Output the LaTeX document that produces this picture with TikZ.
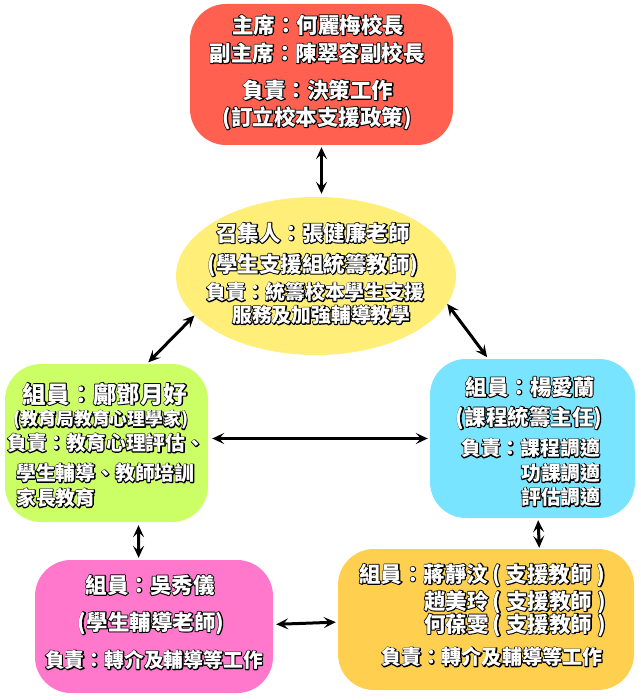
\documentclass[tikz,border=0pt]{standalone}
\usepackage{fontspec}
\newfontfamily\cjk{Noto Sans CJK TC}
\usetikzlibrary{arrows.meta,calc,shapes.geometric}
\definecolor{cred}{RGB}{255,96,80}
\definecolor{cyel}{RGB}{255,238,120}
\definecolor{cgrn}{RGB}{204,255,102}
\definecolor{ccyn}{RGB}{120,228,255}
\definecolor{cpnk}{RGB}{255,120,204}
\definecolor{corg}{RGB}{255,208,80}
\newcommand\olt[1]{\leavevmode\rlap{\special{pdf:literal direct 0 G 1 Tr 1.8 w 1 j}#1\special{pdf:literal direct 0 Tr}}#1}
\newcommand\pl{\kern4pt(\kern5pt}
\newcommand\pr{\kern5pt)}
\tikzset{
  box/.style={draw=none,inner sep=0pt,rounded corners=36pt},
  txt/.style={inner sep=0pt,text=white,font=\cjk\bfseries},
  bigt/.style={font=\cjk\bfseries\fontsize{21.5}{24}\selectfont},
  smlt/.style={font=\cjk\bfseries\fontsize{19.8}{22}\selectfont},
  arr/.style={line width=3pt,{Stealth[length=12pt,width=11pt,inset=5pt]}-{Stealth[length=12pt,width=11pt,inset=5pt]}},
}
\begin{document}
\begin{tikzpicture}[x=1pt,y=-1pt]
\fill[white] (0,0) rectangle (640,700);
\useasboundingbox (0,0) rectangle (640,700);
% boxes
\node[box,fill=cred,minimum width=263pt,minimum height=141pt] (red) at (321.5,74.5) {};
\node[draw=none,inner sep=0pt,ellipse,fill=cyel,minimum width=280pt,minimum height=158pt] (yel) at (316,276) {};
\node[box,fill=cgrn,minimum width=203pt,minimum height=158pt] (grn) at (106.5,443) {};
\node[box,fill=ccyn,minimum width=205pt,minimum height=159pt] (cyn) at (532.5,438.5) {};
\node[box,fill=cpnk,minimum width=238pt,minimum height=133pt] (pnk) at (154,626.5) {};
\node[box,fill=corg,minimum width=296pt,minimum height=141pt] (org) at (486,619.5) {};
% red text
\node[txt,bigt] (r1) at (318,25) {\olt{主席：何麗梅校長}};
\node[txt,bigt] (r2) at (317,53) {\olt{副主席：陳翠容副校長}};
\node[txt,bigt] (r3) at (318,90) {\olt{負責：決策工作}};
\node[txt,bigt] (r4) at (317,118) {\olt{(訂立校本支援政策)}};
% yellow text
\node[txt,bigt] (y1) at (313,233) {\olt{召集人：張健廉老師}};
\node[txt,bigt] (y2) at (313,265) {\olt{(學生支援組統籌教師)}};
\node[txt,smlt,anchor=west] (y3) at (206,292) {\olt{負責：統籌校本學生支援}};
\node[txt,smlt,anchor=west] (y4) at (232,315) {\olt{服務及加強輔導教學}};
% green text
\node[txt,font=\cjk\bfseries\fontsize{23.5}{26}\selectfont] (g1) at (105,394) {\olt{組員：鄺鄧月好}};
\node[txt,font=\cjk\bfseries\fontsize{17.8}{20}\selectfont] (g2) at (101,420) {\olt{(教育局教育心理學家)}};
\node[txt,smlt,anchor=west] (g3) at (7,443) {\olt{負責：教育心理評估、}};
\node[txt,smlt,anchor=west] (g4) at (16,473) {\olt{學生輔導、教師培訓}};
\node[txt,smlt,anchor=west] (g5) at (16,498) {\olt{家長教育}};
% cyan text
\node[txt,bigt] (c1) at (530,387) {\olt{組員：楊愛蘭}};
\node[txt,bigt] (c2) at (529,418) {\olt{(課程統籌主任)}};
\node[txt,smlt,anchor=west] (c3) at (461,448) {\olt{負責：課程調適}};
\node[txt,smlt,anchor=west] (c4) at (521,473) {\olt{功課調適}};
\node[txt,smlt,anchor=west] (c5) at (521,497) {\olt{評估調適}};
% pink text
\node[txt,bigt] (p1) at (150,585) {\olt{組員：吳秀儀}};
\node[txt,bigt] (p2) at (151,623) {\olt{(學生輔導老師)}};
\node[txt,smlt] (p3) at (154,660) {\olt{負責：轉介及輔導等工作}};
% orange text
\node[txt,bigt,anchor=west] (o1) at (359,575) {\olt{組員：蔣靜汶\pl 支援教師\pr}};
\node[txt,bigt,anchor=west] (o2) at (424,602) {\olt{趙美玲\pl 支援教師\pr}};
\node[txt,bigt,anchor=west] (o3) at (424,625) {\olt{何葆雯\pl 支援教師\pr}};
\node[txt,font=\cjk\bfseries\fontsize{20.1}{23}\selectfont] (o4) at (492,657) {\olt{負責：轉介及輔導等工作}};
% connectors
\draw[arr,shorten <=2pt,shorten >=3pt] (red.south) -- (red.south |- yel.north);
\draw[arr,shorten >=2pt] (yel.198) -- (grn.63.4);
\draw[arr,shorten >=2pt] (yel.-12.5) -- (cyn.119.8);
\draw[arr,shorten <=4pt,shorten >=2pt] (cyn.west -| grn.east) -- (cyn.west);
\draw[arr,shorten <=3pt,shorten >=2pt] (grn.-68.3) -- (pnk.103.5);
\draw[arr,shorten <=2pt,shorten >=1pt] (cyn.-86) -- (org.53.6);
\draw[arr,shorten <=3pt,shorten >=2pt] (pnk.1.7) -- (org.181.4);
\end{tikzpicture}
\end{document}
